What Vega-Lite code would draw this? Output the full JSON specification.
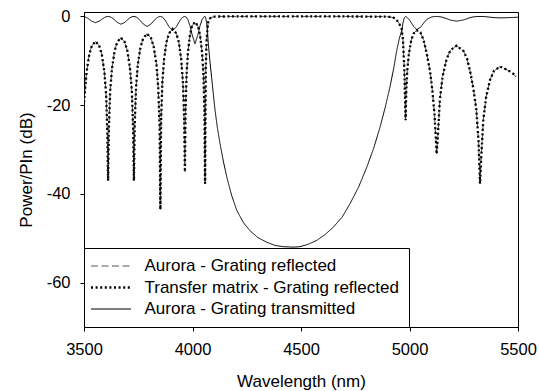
{
  "$schema": "https://vega.github.io/schema/vega-lite/v6.json",
  "width": 434,
  "height": 315,
  "autosize": {"type": "none"},
  "padding": {"left": 84, "top": 12, "right": 21, "bottom": 64},
  "background": "white",
  "config": {
    "view": {"stroke": "black", "strokeWidth": 1},
    "axis": {
      "domainColor": "black", "tickColor": "black", "tickSize": 4, "grid": false,
      "labelFont": "Liberation Sans", "labelFontSize": 16.5, "labelColor": "black", "labelPadding": 10,
      "labelFlush": false, "labelOverlap": false,
      "titleFont": "Liberation Sans", "titleFontSize": 17, "titleFontWeight": "normal", "titleColor": "black"
    },
    "legend": {
      "orient": "none", "legendX": 0, "legendY": 236,
      "fillColor": "white", "strokeColor": "black", "padding": 9.5,
      "labelFont": "Liberation Sans", "labelFontSize": 17, "labelColor": "black", "labelLimit": 400,
      "symbolType": "M-2,0H2", "symbolSize": 400, "symbolOffset": 9, "labelOffset": 25, "rowPadding": 3.5
    }
  },
  "datasets": {
    "refl": [
      {"w":3500,"p":-19.4},{"w":3505,"p":-16.5},{"w":3512,"p":-12.5},{"w":3524,"p":-8.6},{"w":3536,"p":-6.6},{"w":3553,"p":-5.6},{"w":3570,"p":-6.6},{"w":3582,"p":-8.6},{"w":3594,"p":-12.5},{"w":3602,"p":-17.7},{"w":3607.5,"p":-26.1},{"w":3611,"p":-37},
      {"w":3614.6,"p":-25.3},{"w":3620.5,"p":-16.9},{"w":3629,"p":-11.7},{"w":3641,"p":-7.8},{"w":3653,"p":-5.8},{"w":3670,"p":-4.8},{"w":3688,"p":-5.8},{"w":3700,"p":-7.8},{"w":3712,"p":-11.7},{"w":3720.5,"p":-16.9},{"w":3726.4,"p":-25.3},{"w":3730,"p":-37},
      {"w":3733.7,"p":-24.4},{"w":3739.8,"p":-16.0},{"w":3748,"p":-10.8},{"w":3760.5,"p":-6.9},{"w":3773,"p":-4.9},{"w":3791,"p":-3.9},{"w":3809,"p":-4.9},{"w":3821.5,"p":-6.9},{"w":3834,"p":-10.8},{"w":3842,"p":-16.0},{"w":3848.3,"p":-24.4},{"w":3852,"p":-43.5},
      {"w":3855.4,"p":-23.3},{"w":3861,"p":-14.9},{"w":3869,"p":-9.7},{"w":3880,"p":-5.8},{"w":3892,"p":-3.8},{"w":3908.5,"p":-2.8},{"w":3925.5,"p":-3.8},{"w":3937,"p":-5.8},{"w":3948,"p":-9.7},{"w":3956,"p":-14.9},{"w":3961.6,"p":-23.3},{"w":3965,"p":-35},
      {"w":3967.8,"p":-21.7},{"w":3972.4,"p":-13.3},{"w":3979,"p":-8.1},{"w":3988.3,"p":-4.2},{"w":3997.6,"p":-2.2},{"w":4011.5,"p":-1.2},{"w":4025.5,"p":-2.2},{"w":4034.8,"p":-4.2},{"w":4044,"p":-8.1},{"w":4050.6,"p":-13.3},{"w":4055.2,"p":-21.7},{"w":4058,"p":-37.7},
      {"w":4061,"p":-11.7},{"w":4065,"p":-5.3},{"w":4069,"p":-2.74},{"w":4073,"p":-1.19},{"w":4080,"p":-0.46},{"w":4088,"p":-0.19},{"w":4096,"p":-0.08},{"w":4104,"p":-0.03},{"w":4127,"p":-0.01},
      {"w":4300,"p":0},{"w":4500,"p":0},{"w":4700,"p":0},{"w":4888,"p":-0.04},{"w":4910,"p":-0.11},{"w":4928,"p":-0.32},{"w":4941,"p":-0.81},{"w":4954,"p":-1.75},{"w":4964,"p":-2.83},{"w":4970,"p":-5.35},{"w":4976,"p":-11.76},{"w":4982,"p":-23.4},
      {"w":4985,"p":-17},{"w":4990,"p":-12},{"w":4997,"p":-8.5},{"w":5007,"p":-5.6},{"w":5018,"p":-3.9},{"w":5033,"p":-3.1},{"w":5050,"p":-3.6},{"w":5065,"p":-5.3},{"w":5080,"p":-8.5},{"w":5095,"p":-12.5},{"w":5105,"p":-16.5},{"w":5115,"p":-22},{"w":5121,"p":-27},{"w":5125,"p":-31},
      {"w":5130.5,"p":-27.1},{"w":5140,"p":-18.7},{"w":5152.6,"p":-13.5},{"w":5171,"p":-9.6},{"w":5189,"p":-7.6},{"w":5217,"p":-6.6},{"w":5249,"p":-7.8},{"w":5265,"p":-9.5},{"w":5280,"p":-12.5},{"w":5295,"p":-16.5},{"w":5308,"p":-21},{"w":5318,"p":-28},{"w":5325,"p":-37.7},
      {"w":5330.5,"p":-31.8},{"w":5340,"p":-23.4},{"w":5353,"p":-18.2},{"w":5371,"p":-14.3},{"w":5389,"p":-12.3},{"w":5417,"p":-11.3},{"w":5440,"p":-11.8},{"w":5463,"p":-12.4},{"w":5480,"p":-13.0},{"w":5490,"p":-13.6}
    ],
    "trans": [
      {"w":3500,"p":-0.05},{"w":3505,"p":-0.1},{"w":3512,"p":-0.25},{"w":3524,"p":-0.65},{"w":3536,"p":-1.07},{"w":3553,"p":-1.4},{"w":3570,"p":-1.07},{"w":3582,"p":-0.65},{"w":3594,"p":-0.25},{"w":3602,"p":-0.07},{"w":3611,"p":0},
      {"w":3620.5,"p":-0.09},{"w":3629,"p":-0.3},{"w":3641,"p":-0.79},{"w":3653,"p":-1.33},{"w":3670,"p":-1.75},{"w":3688,"p":-1.33},{"w":3700,"p":-0.79},{"w":3712,"p":-0.3},{"w":3720.5,"p":-0.09},{"w":3730,"p":0},
      {"w":3739.8,"p":-0.11},{"w":3748,"p":-0.38},{"w":3760.5,"p":-0.99},{"w":3773,"p":-1.7},{"w":3791,"p":-2.27},{"w":3809,"p":-1.7},{"w":3821.5,"p":-0.99},{"w":3834,"p":-0.38},{"w":3842,"p":-0.11},{"w":3852,"p":0},
      {"w":3861,"p":-0.14},{"w":3869,"p":-0.49},{"w":3880,"p":-1.33},{"w":3892,"p":-2.34},{"w":3908.5,"p":-3.23},{"w":3925.5,"p":-2.34},{"w":3937,"p":-1.33},{"w":3948,"p":-0.49},{"w":3956,"p":-0.14},{"w":3965,"p":0},
      {"w":3972.4,"p":-0.21},{"w":3979,"p":-0.73},{"w":3988.3,"p":-2.08},{"w":3997.6,"p":-4.01},{"w":4011.5,"p":-6.17},{"w":4025.5,"p":-4.01},{"w":4034.8,"p":-2.08},{"w":4044,"p":-0.73},{"w":4050.6,"p":-0.21},{"w":4058,"p":0},
      {"w":4061,"p":-0.3},{"w":4065,"p":-1.5},{"w":4069,"p":-3.3},{"w":4073,"p":-6.2},{"w":4080,"p":-10},{"w":4088,"p":-13.7},{"w":4096,"p":-17.5},{"w":4104,"p":-21.2},{"w":4115,"p":-25.2},{"w":4127,"p":-28.7},{"w":4142,"p":-32.6},{"w":4158,"p":-36.2},{"w":4180,"p":-40.3},{"w":4204,"p":-43.7},{"w":4235,"p":-46.5},{"w":4265,"p":-48.3},{"w":4300,"p":-49.8},{"w":4342,"p":-50.9},{"w":4380,"p":-51.6},{"w":4418,"p":-51.9},{"w":4465,"p":-52.0},{"w":4495,"p":-51.9},{"w":4530,"p":-51.4},{"w":4572,"p":-50.5},{"w":4610,"p":-49.2},{"w":4649,"p":-47.5},{"w":4690,"p":-45.2},{"w":4726,"p":-42.2},{"w":4765,"p":-38.5},{"w":4803,"p":-34.0},{"w":4835,"p":-29.7},{"w":4864,"p":-25.0},{"w":4888,"p":-20.5},{"w":4910,"p":-15.9},{"w":4928,"p":-11.5},{"w":4941,"p":-7.7},{"w":4954,"p":-4.8},{"w":4964,"p":-3.2},{"w":4970,"p":-1.5},{"w":4976,"p":-0.3},{"w":4982,"p":-0.02},
      {"w":4985,"p":-0.09},{"w":4990,"p":-0.28},{"w":4997,"p":-0.64},{"w":5007,"p":-1.34},{"w":5018,"p":-2.2},{"w":5033,"p":-2.92},{"w":5050,"p":-2.49},{"w":5065,"p":-1.52},{"w":5080,"p":-0.66},{"w":5095,"p":-0.25},{"w":5105,"p":-0.1},{"w":5115,"p":-0.03},{"w":5125,"p":0},
      {"w":5140,"p":-0.06},{"w":5152.6,"p":-0.2},{"w":5171,"p":-0.5},{"w":5189,"p":-0.83},{"w":5217,"p":-1.07},{"w":5249,"p":-0.79},{"w":5265,"p":-0.52},{"w":5280,"p":-0.25},{"w":5295,"p":-0.1},{"w":5308,"p":-0.03},{"w":5325,"p":0},
      {"w":5340,"p":-0.02},{"w":5353,"p":-0.07},{"w":5371,"p":-0.17},{"w":5389,"p":-0.26},{"w":5417,"p":-0.33},{"w":5440,"p":-0.3},{"w":5463,"p":-0.26},{"w":5480,"p":-0.22},{"w":5500,"p":-0.17}
    ]
  },
  "encoding": {
    "x": {"field": "w", "type": "quantitative", "scale": {"domain": [3500, 5500], "nice": false}, "axis": {"values": [3500, 4000, 4500, 5000, 5500], "labelExpr": "'' + datum.value", "title": "Wavelength (nm)", "titlePadding": 16}},
    "y": {"field": "p", "type": "quantitative", "scale": {"domain": [-70, 1], "nice": false, "zero": false}, "axis": {"values": [-60, -40, -20, 0], "labelExpr": "'' + datum.value", "title": "Power/PIn (dB)", "titlePadding": 11}}
  },
  "layer": [
    {
      "data": {"name": "refl"},
      "mark": {"type": "line", "clip": true, "strokeWidth": 1},
      "encoding": {
        "color": {"datum": "Aurora - Grating reflected", "type": "nominal", "scale": {"domain": ["Aurora - Grating reflected", "Transfer matrix - Grating reflected", "Aurora - Grating transmitted"], "range": ["#555555", "#000000", "#000000"]},
          "legend": {"title": null, "encode": {"symbols": {"update": {"strokeWidth": {"signal": "datum.label === 'Transfer matrix - Grating reflected' ? 2.3 : 1"}}}}}},
        "strokeDash": {"datum": "Aurora - Grating reflected", "type": "nominal", "scale": {"domain": ["Aurora - Grating reflected", "Transfer matrix - Grating reflected", "Aurora - Grating transmitted"], "range": [[7, 3.5], [2, 2.6], [1, 0]]}, "legend": {"title": null}}
      }
    },
    {
      "data": {"name": "refl"},
      "mark": {"type": "line", "clip": true, "strokeWidth": 2.3},
      "encoding": {
        "color": {"datum": "Transfer matrix - Grating reflected", "type": "nominal"},
        "strokeDash": {"datum": "Transfer matrix - Grating reflected", "type": "nominal"}
      }
    },
    {
      "data": {"name": "trans"},
      "mark": {"type": "line", "clip": true, "strokeWidth": 1},
      "encoding": {
        "color": {"datum": "Aurora - Grating transmitted", "type": "nominal"},
        "strokeDash": {"datum": "Aurora - Grating transmitted", "type": "nominal"}
      }
    }
  ]
}
